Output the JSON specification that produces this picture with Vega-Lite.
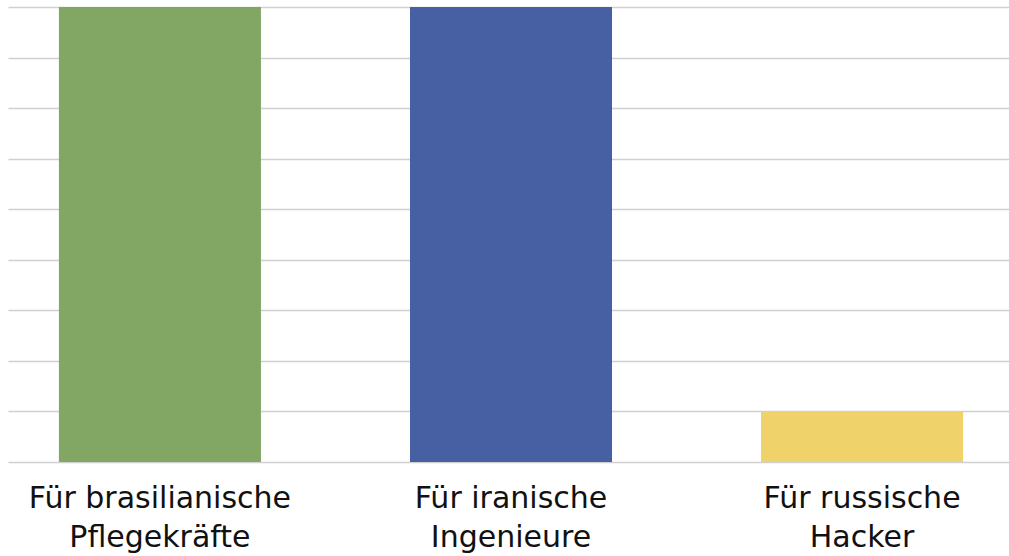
{
  "$schema": "https://vega.github.io/schema/vega-lite/v6.json",
  "width": 1006,
  "height": 455,
  "autosize": {"type": "none"},
  "padding": {"left": 8, "top": 7, "right": 0, "bottom": 94},
  "background": "white",
  "data": {"values": [
    {"kategorie": "Für brasilianische Pflegekräfte", "wert": 9, "farbe": "#82A664"},
    {"kategorie": "Für iranische Ingenieure", "wert": 9, "farbe": "#4760A3"},
    {"kategorie": "Für russische Hacker", "wert": 1, "farbe": "#F0D26B"}
  ]},
  "mark": {"type": "bar"},
  "encoding": {
    "x": {
      "field": "kategorie", "type": "nominal", "sort": null,
      "scale": {"paddingInner": 0.4245, "paddingOuter": 0.145},
      "axis": {
        "title": null, "domain": false, "ticks": false, "labelAngle": 0,
        "labelFont": "DejaVu Sans", "labelFontSize": 30, "labelColor": "#111111",
        "labelPadding": 21, "labelLineHeight": 39, "labelLimit": 400,
        "labelExpr": "[slice(datum.label, 0, lastindexof(datum.label, ' ')), slice(datum.label, lastindexof(datum.label, ' ') + 1)]"
      }
    },
    "y": {
      "field": "wert", "type": "quantitative",
      "scale": {"domain": [0, 9], "nice": false},
      "axis": {
        "title": null, "domain": false, "ticks": false, "labels": false,
        "values": [0,1,2,3,4,5,6,7,8,9], "labelOverlap": false,
        "gridColor": "#D0D0D0", "gridWidth": 1.5
      }
    },
    "color": {"field": "farbe", "type": "nominal", "scale": null, "legend": null}
  },
  "config": {"view": {"stroke": null}}
}
